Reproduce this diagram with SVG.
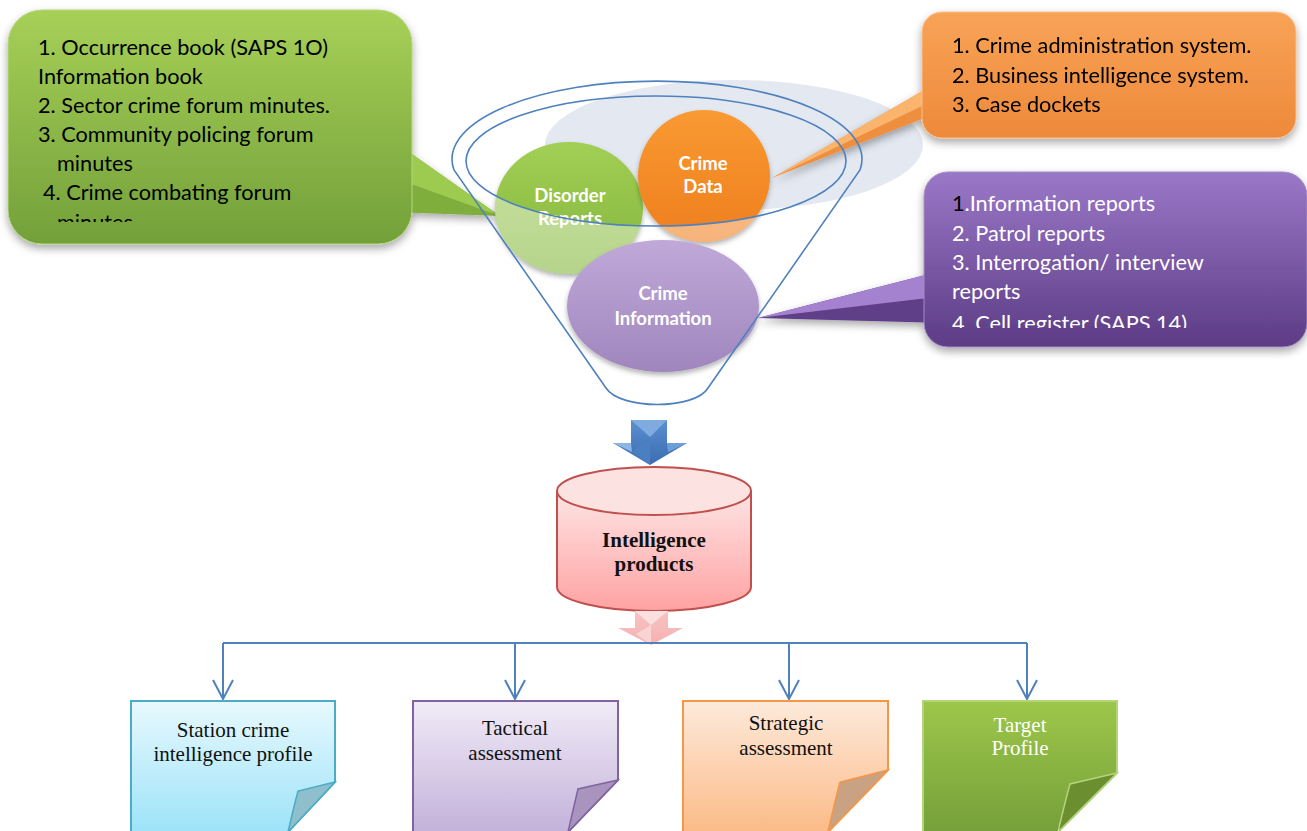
<svg xmlns="http://www.w3.org/2000/svg" width="1307" height="831" viewBox="0 0 1307 831">
<style>
.cl{font-family:Lato,"Liberation Sans",sans-serif;font-size:21.7px;fill:#000}
.clw{font-family:Lato,"Liberation Sans",sans-serif;font-size:21.7px;fill:#fff}
.ball{font-family:Lato,"Liberation Sans",sans-serif;font-size:18.5px;font-weight:bold;fill:#fff;text-anchor:middle}
.tm{font-family:"Liberation Serif",serif;font-size:21px;text-anchor:middle;fill:#111}
.fun{fill:none;stroke:#4f81bd;stroke-width:1.6}
.conn{fill:none;stroke:#4f81bd;stroke-width:2}
</style>
<defs>
<filter id="sh" x="-10%" y="-10%" width="120%" height="130%"><feDropShadow dx="0" dy="4" stdDeviation="4" flood-color="#000" flood-opacity="0.35"/></filter>
<filter id="sh2" x="-10%" y="-10%" width="120%" height="130%"><feDropShadow dx="0" dy="3" stdDeviation="2.5" flood-color="#000" flood-opacity="0.3"/></filter>
<linearGradient id="gG" x1="0" y1="0" x2="0" y2="1"><stop offset="0" stop-color="#a6d057"/><stop offset="1" stop-color="#73a03a"/></linearGradient>
<linearGradient id="gO" x1="0" y1="0" x2="0" y2="1"><stop offset="0" stop-color="#f8a357"/><stop offset="1" stop-color="#ee893a"/></linearGradient>
<linearGradient id="gP" x1="0" y1="0" x2="0" y2="1"><stop offset="0" stop-color="#9a78c8"/><stop offset="1" stop-color="#5c3c85"/></linearGradient>
<linearGradient id="bG" x1="0" y1="0" x2="0" y2="1"><stop offset="0" stop-color="#a2cf55"/><stop offset="1" stop-color="#83b53c"/></linearGradient>
<linearGradient id="bO" x1="0" y1="0" x2="0" y2="1"><stop offset="0" stop-color="#f99a32"/><stop offset="1" stop-color="#ee7e1d"/></linearGradient>
<linearGradient id="bP" x1="0" y1="0" x2="0" y2="1"><stop offset="0" stop-color="#c0a8d9"/><stop offset="1" stop-color="#9f87be"/></linearGradient>
<linearGradient id="cyl" x1="0" y1="0" x2="0" y2="1"><stop offset="0" stop-color="#fee4e4"/><stop offset="1" stop-color="#ffa2a2"/></linearGradient>
<linearGradient id="arB" x1="0" y1="0" x2="0" y2="1"><stop offset="0" stop-color="#5a8fd2"/><stop offset="1" stop-color="#3b6db0"/></linearGradient>
<linearGradient id="arP" x1="0" y1="0" x2="0" y2="1"><stop offset="0" stop-color="#f6c3c3"/><stop offset="1" stop-color="#f7b0b0"/></linearGradient>
<linearGradient id="nS" x1="0" y1="0" x2="0" y2="1"><stop offset="0" stop-color="#e8f9fe"/><stop offset="1" stop-color="#9de3f8"/></linearGradient>
<linearGradient id="nT" x1="0" y1="0" x2="0" y2="1"><stop offset="0" stop-color="#f1ebf7"/><stop offset="1" stop-color="#c3b2da"/></linearGradient>
<linearGradient id="nR" x1="0" y1="0" x2="0" y2="1"><stop offset="0" stop-color="#fdeadb"/><stop offset="1" stop-color="#fbbb88"/></linearGradient>
<linearGradient id="nG" x1="0" y1="0" x2="0" y2="1"><stop offset="0" stop-color="#9dc74a"/><stop offset="1" stop-color="#76a03a"/></linearGradient>
<clipPath id="outIn"><path clip-rule="evenodd" d="M0,0 H1307 V831 H0 Z M466,161 A190 65 0 1 0 846,161 A190 65 0 1 0 466,161 Z"/></clipPath>
<clipPath id="clipG"><rect x="8" y="10" width="404" height="212"/></clipPath>
<clipPath id="clipP"><rect x="924" y="172" width="383" height="156"/></clipPath>
<marker id="ah" viewBox="-22 -12 24 24" markerWidth="24" markerHeight="24" refX="0" refY="0" orient="auto" markerUnits="userSpaceOnUse"><path d="M-19,-10 L0,0 L-19,10" fill="none" stroke="#4f81bd" stroke-width="2"/></marker>
</defs>
<rect width="1307" height="831" fill="#fff"/>

<g id="funnel">
<ellipse cx="734" cy="145" rx="189" ry="65" fill="#dfe4ee" opacity="0.85"/>
</g>

<g id="callout-green" filter="url(#sh)">
<polygon points="392,140 500,216 392,212" fill="#7fae3e"/>
<polygon points="392,140 500,216 400,180" fill="#9ccb50"/>
<rect x="8" y="10" width="404" height="234" rx="34" fill="url(#gG)" stroke="#b5d77a" stroke-width="1"/>
</g>
<g clip-path="url(#clipG)">
<text class="cl" x="38" y="55">1. Occurrence book (SAPS 1O)</text>
<text class="cl" x="38" y="84">Information book</text>
<text class="cl" x="38" y="113">2. Sector crime forum minutes.</text>
<text class="cl" x="38" y="142">3. Community policing forum</text>
<text class="cl" x="57" y="171">minutes</text>
<text class="cl" x="43" y="200">4. Crime combating forum</text>
<text class="cl" x="57" y="230">minutes</text>
</g>

<g id="callout-orange" filter="url(#sh)">
<polygon points="945,78 772,178 945,110" fill="#ee8f3f"/>
<polygon points="945,78 772,178 945,95" fill="#fab46d"/>
<rect x="922" y="12" width="374" height="126" rx="20" fill="url(#gO)" stroke="#fbc08a" stroke-width="1"/>
<text class="cl" x="952" y="53">1. Crime administration system.</text>
<text class="cl" x="952" y="83">2. Business intelligence system.</text>
<text class="cl" x="952" y="112">3. Case dockets</text>
</g>

<g id="callout-purple" filter="url(#sh)">
<polygon points="945,270 758,318 945,323" fill="#5f3f88"/>
<polygon points="945,270 758,318 945,296" fill="#a582cf"/>
<rect x="924" y="172" width="383" height="175" rx="24" fill="url(#gP)" stroke="#a58bc8" stroke-width="1"/>
</g>
<g clip-path="url(#clipP)">
<text class="clw" x="952" y="211"><tspan fill="#000">1</tspan>.Information reports</text>
<text class="clw" x="952" y="241">2. Patrol reports</text>
<text class="clw" x="952" y="270">3. Interrogation/ interview</text>
<text class="clw" x="952" y="299">reports</text>
<text class="clw" x="952" y="331">4. Cell register (SAPS 14)</text>
</g>

<g id="disorder-reports">
<ellipse cx="569" cy="208" rx="74" ry="66" fill="url(#bG)" filter="url(#sh2)"/>
<text class="ball" x="570" y="202">Disorder</text>
<text class="ball" x="570" y="225">Reports</text>
<ellipse cx="569" cy="208" rx="74" ry="66" fill="#fff" opacity="0.42" clip-path="url(#outIn)"/>
</g>
<g id="crime-data">
<circle cx="704" cy="176" r="66" fill="url(#bO)" filter="url(#sh2)"/>
<text class="ball" x="703" y="170">Crime</text>
<text class="ball" x="703" y="193">Data</text>
<circle cx="704" cy="176" r="66" fill="#fff" opacity="0.42" clip-path="url(#outIn)"/>
</g>
<g id="crime-information">
<ellipse cx="663" cy="306" rx="96" ry="66" fill="url(#bP)" filter="url(#sh2)"/>
<text class="ball" x="663" y="300">Crime</text>
<text class="ball" x="663" y="325">Information</text>
</g>

<g id="funnel-outline">
<path class="fun" d="M454,170 A205 78 0 1 1 860,170 L708,388 C695,410 620,410 606,388 Z"/>
<ellipse class="fun" cx="656" cy="161" rx="190" ry="65"/>
</g>

<g id="arrow-down">
<polygon points="631,420 667,420 667,443 687,443 650,465 613,443 631,443" fill="url(#arB)"/>
<polygon points="631,420 667,420 650,437" fill="#7fabe0"/>
<polygon points="613,443 631,443 632,452" fill="#8db5e6"/>
<polygon points="667,443 687,443 668,452" fill="#6f9fda"/>
<polygon points="650,437 650,465 632,452" fill="#4a7fc2"/>
</g>

<g id="intelligence-products">
<path d="M557,491 L557,587 A97 24 0 0 0 751,587 L751,491 Z" fill="url(#cyl)" stroke="#c0504d" stroke-width="2"/>
<ellipse cx="654" cy="491" rx="97" ry="24" fill="#fde2e2" stroke="#c0504d" stroke-width="2"/>
<text class="tm" x="654" y="547" font-weight="bold">Intelligence</text>
<text class="tm" x="654" y="571" font-weight="bold">products</text>
</g>

<g id="arrow-pink">
<polygon points="635,611 668,611 668,628 683,628 651,645 618,628 635,628" fill="url(#arP)"/>
<polygon points="635,611 668,611 651,625" fill="#fbe0e0"/>
<polygon points="651,625 651,645 636,634" fill="#fad4d4"/>
</g>

<g id="connectors">
<path class="conn" d="M223,643 H1027"/>
<path class="conn" d="M223,643 V699" marker-end="url(#ah)"/>
<path class="conn" d="M515,643 V699" marker-end="url(#ah)"/>
<path class="conn" d="M789,643 V699" marker-end="url(#ah)"/>
<path class="conn" d="M1027,643 V699" marker-end="url(#ah)"/>
</g>

<g id="station-profile">
<path d="M131,701 H335 V782 L288,832 H131 Z" fill="url(#nS)" stroke="#4bacc6" stroke-width="2"/>
<path d="M335,782 L298,791 Q293,810 288,832 Z" fill="#8fbfcc" stroke="#4bacc6" stroke-width="1.5"/>
<text class="tm" x="233" y="737">Station crime</text>
<text class="tm" x="233" y="761">intelligence profile</text>
</g>
<g id="tactical">
<path d="M413,701 H618 V780 L568,832 H413 Z" fill="url(#nT)" stroke="#8064a2" stroke-width="2"/>
<path d="M618,780 L578,789 Q573,810 568,832 Z" fill="#a894bd" stroke="#8064a2" stroke-width="1.5"/>
<text class="tm" x="515" y="735">Tactical</text>
<text class="tm" x="515" y="760">assessment</text>
</g>
<g id="strategic">
<path d="M683,701 H888 V770 L828,832 H683 Z" fill="url(#nR)" stroke="#f79646" stroke-width="2"/>
<path d="M888,770 L840,782 Q834,805 828,832 Z" fill="#c9a183" stroke="#f79646" stroke-width="1.5"/>
<text class="tm" x="786" y="730">Strategic</text>
<text class="tm" x="786" y="755">assessment</text>
</g>
<g id="target-profile">
<path d="M923,701 H1117 V773 L1058,832 H923 Z" fill="url(#nG)" stroke="#b3d47a" stroke-width="2"/>
<path d="M1117,773 L1070,784 Q1064,806 1058,832 Z" fill="#6a8e30" stroke="#b3d47a" stroke-width="1.5"/>
<text class="tm" x="1020" y="732" style="fill:#fff">Target</text>
<text class="tm" x="1020" y="755" style="fill:#fff">Profile</text>
</g>
</svg>
